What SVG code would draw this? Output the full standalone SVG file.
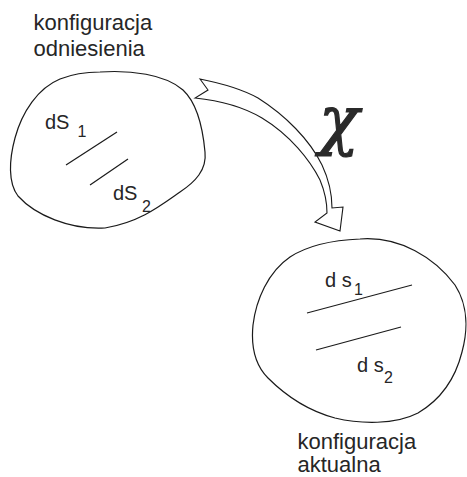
<svg xmlns="http://www.w3.org/2000/svg" width="467" height="477" viewBox="0 0 467 477">
<style>
.outline{fill:none;stroke:#1a1a1a;stroke-width:1.2}
.seg{stroke:#1a1a1a;stroke-width:1.2}
.lbl{font-family:"Liberation Sans",Arial,sans-serif;fill:#262626}
.big{font-size:22px}
.mid{font-size:20px}
.sub{font-size:16px}
</style>
<rect width="467" height="477" fill="#fff"/>
<g id="ref-label">
<text class="lbl big" x="33.5" y="30">konfiguracja</text>
<text class="lbl big" x="33.5" y="56">odniesienia</text>
</g>
<g id="ref-config">
<path class="outline" d="M100,72 C130,70 165,74 183,90 C198,104 203,130 205,152 C207,170 195,182 180,192 C160,206 140,222 105,228 C70,230 35,215 18,196 C8,183 9,160 15,138 C22,112 38,88 60,79 C75,73 88,72 100,72 Z"/>
<line class="seg" x1="66" y1="165" x2="117" y2="132"/>
<line class="seg" x1="90" y1="185" x2="128" y2="159"/>
<text class="lbl mid" x="45" y="129">dS</text>
<text class="lbl sub" x="77.5" y="137">1</text>
<text class="lbl mid" x="113" y="200">dS</text>
<text class="lbl sub" x="142" y="212">2</text>
</g>
<g id="cur-config">
<path class="outline" d="M360,239 C400,236 435,258 455,285 C468,305 468,330 462,352 C455,380 440,400 418,413 C395,425 360,424 335,418 C305,410 285,395 268,378 C255,365 251,345 253,325 C256,300 268,272 290,257 C310,244 335,240 360,239 Z"/>
<line class="seg" x1="307" y1="313" x2="412" y2="285"/>
<line class="seg" x1="316" y1="350" x2="401" y2="327"/>
<text class="lbl mid" x="325" y="287">d s</text>
<text class="lbl sub" x="354" y="295">1</text>
<text class="lbl mid" x="357" y="372">d s</text>
<text class="lbl sub" x="384" y="383">2</text>
</g>
<g id="cur-label">
<text class="lbl big" x="297.5" y="449">konfiguracja</text>
<text class="lbl big" x="297.5" y="472">aktualna</text>
</g>
<g id="connectors">
<path fill="#fff" stroke="#1a1a1a" stroke-width="1.1" stroke-linejoin="miter" d="M200,79 L208,90 L195,98 C215,100 240,105 262,118 C290,135 310,160 320,180 C325,192 327,205 327,213 L315,222 L340,231 L343,207 L332,208 C332,195 330,182 322,165 C310,140 285,115 258,98 C240,88 220,83 200,79 Z"/>
<text x="319" y="142" style="font-family:'DejaVu Serif',serif;font-style:italic;font-size:66px;fill:#2a2a2a;stroke:#2a2a2a;stroke-width:1.2">χ</text>
</g>
</svg>
